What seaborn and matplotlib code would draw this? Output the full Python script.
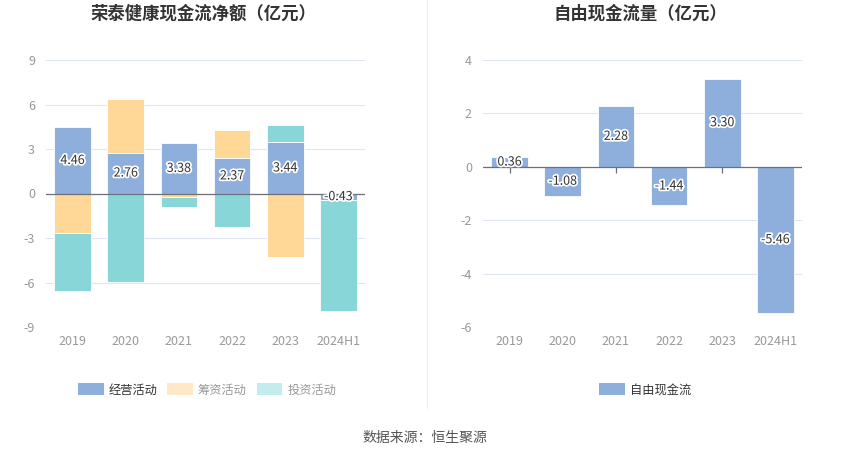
import numpy as np
import pandas as pd
import matplotlib
matplotlib.use('Agg')
import matplotlib.pyplot as plt
import matplotlib.patheffects as pe
from matplotlib.patches import Patch
import seaborn as sns

years = ['2019', '2020', '2021', '2022', '2023', '2024H1']
operating = [4.46, 2.76, 3.38, 2.37, 3.44, -0.43]
financing = [-2.64, 3.59, -0.21, 1.91, -4.26, 0.0]
investing = [-3.91, -5.95, -0.68, -2.24, 1.20, -7.47]
free_cf = [0.36, -1.08, 2.28, -1.44, 3.30, -5.46]

left_title = '荣泰健康现金流净额（亿元）'
right_title = '自由现金流量（亿元）'
series_names = ['经营活动', '筹资活动', '投资活动']
source_text = '数据来源：恒生聚源'

sns.set_style('white')
plt.rcParams['font.family'] = ['Noto Sans CJK SC', 'DejaVu Sans']
plt.rcParams['axes.unicode_minus'] = False

BLUE = '#8eaedb'
ORANGE = '#ffd898'
TEAL = '#88d6d8'
GRID = '#e0e6f1'
TICK = '#999999'

fig = plt.figure(figsize=(8.5, 4.59), dpi=100)
ax1 = fig.add_axes([46 / 850, 1 - 327 / 459, 319 / 850, 267 / 459])
ax2 = fig.add_axes([483 / 850, 1 - 327 / 459, 319 / 850, 267 / 459])

label_fx = [pe.withStroke(linewidth=2.5, foreground='white')]


def style_axis(ax, lo, hi, step):
    ax.set_ylim(lo, hi)
    ax.set_xlim(-0.5, len(years) - 0.5)
    ax.set_yticks(np.arange(lo, hi + step / 2, step))
    ax.yaxis.grid(True, color=GRID, linewidth=0.8)
    ax.set_axisbelow(True)
    for s in ax.spines.values():
        s.set_visible(False)
    ax.tick_params(axis='both', length=0, colors=TICK, labelsize=9)
    ax.tick_params(axis='y', pad=8)
    ax.tick_params(axis='x', pad=6)
    ax.set_xlabel('')
    ax.set_ylabel('')
    ax.axhline(0, color='#6e7079', linewidth=0.9, zorder=3)


# left: stacked cash flow
pos_base = np.zeros(len(years))
neg_base = np.zeros(len(years))
for vals, color in zip([operating, financing, investing], [BLUE, ORANGE, TEAL]):
    vals = np.array(vals)
    bottom = np.where(vals >= 0, pos_base, neg_base)
    df = pd.DataFrame({'year': years, 'v': vals})
    sns.barplot(data=df, x='year', y='v', bottom=bottom, color=color, width=0.69,
                edgecolor='white', linewidth=0.6, saturation=1, ax=ax1, zorder=2)
    pos_base = pos_base + np.where(vals >= 0, vals, 0)
    neg_base = neg_base + np.where(vals < 0, vals, 0)

style_axis(ax1, -9, 9, 3)
for i, v in enumerate(operating):
    ax1.text(i, v / 2, f'{v:.2f}', ha='center', va='center', fontsize=9,
             color='#333333', path_effects=label_fx, zorder=5)

# right: free cash flow
df_f = pd.DataFrame({'year': years, 'v': free_cf})
sns.barplot(data=df_f, x='year', y='v', color=BLUE, width=0.69, edgecolor='white',
            linewidth=0.6, saturation=1, ax=ax2, zorder=2)
style_axis(ax2, -6, 4, 2)
ax2.vlines(range(len(years)), -0.25, 0, color='#6e7079', linewidth=0.9, zorder=1)
for i, v in enumerate(free_cf):
    ax2.text(i, v / 2, f'{v:.2f}', ha='center', va='center', fontsize=9,
             color='#333333', path_effects=label_fx, zorder=5)

# titles
fig.text(203 / 850, 1 - 14 / 459, left_title, ha='center', va='center',
         fontsize=12.5, fontweight='bold', color='#333333')
fig.text(640 / 850, 1 - 14 / 459, right_title, ha='center', va='center',
         fontsize=12.5, fontweight='bold', color='#333333')

# legends
h1 = [Patch(facecolor=BLUE, edgecolor='none'),
      Patch(facecolor='#ffe8c6', edgecolor='none'),
      Patch(facecolor='#c3ecec', edgecolor='none')]
leg1 = fig.legend(h1, series_names, loc='center', bbox_to_anchor=(207 / 850, 1 - 390 / 459),
                  ncol=3, frameon=False, fontsize=8.8, handlelength=2.1, handleheight=1.1,
                  columnspacing=0.8, handletextpad=0.4)
for t, c in zip(leg1.get_texts(), ['#333333', '#999999', '#999999']):
    t.set_color(c)
leg2 = fig.legend([Patch(facecolor=BLUE, edgecolor='none')], ['自由现金流'], loc='center',
                  bbox_to_anchor=(645 / 850, 1 - 390 / 459), frameon=False, fontsize=8.8,
                  handlelength=2.1, handleheight=1.1, handletextpad=0.4)
leg2.get_texts()[0].set_color('#333333')

# divider and source
fig.add_artist(plt.Line2D([427 / 850, 427 / 850], [1 - 408 / 459, 1], color='#eeeeee',
                          linewidth=0.8, transform=fig.transFigure))
fig.text(425 / 850, 1 - 438 / 459, source_text, ha='center', va='center',
         fontsize=10, color='#555555')

fig.savefig('out.png', dpi=100, facecolor='white')
